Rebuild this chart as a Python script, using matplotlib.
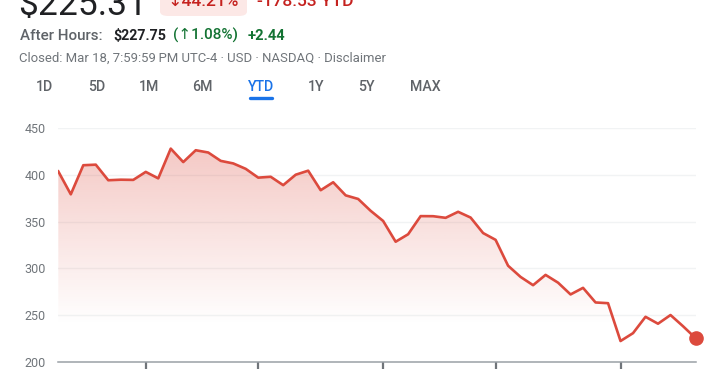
import matplotlib
matplotlib.use("Agg")
import matplotlib.pyplot as plt
import numpy as np
from matplotlib.patches import FancyBboxPatch, Polygon

# ---- data ----
dates = ["Dec 31", "Jan 2", "Jan 3", "Jan 6", "Jan 7", "Jan 8", "Jan 10", "Jan 13", "Jan 14",
         "Jan 15", "Jan 16", "Jan 17", "Jan 21", "Jan 22", "Jan 23", "Jan 24", "Jan 27",
         "Jan 28", "Jan 29", "Jan 30", "Jan 31", "Feb 3", "Feb 4", "Feb 5", "Feb 6", "Feb 7",
         "Feb 10", "Feb 11", "Feb 12", "Feb 13", "Feb 14", "Feb 18", "Feb 19", "Feb 20",
         "Feb 21", "Feb 24", "Feb 25", "Feb 26", "Feb 27", "Feb 28", "Mar 3", "Mar 4",
         "Mar 5", "Mar 6", "Mar 7", "Mar 10", "Mar 11", "Mar 12", "Mar 13", "Mar 14",
         "Mar 17", "Mar 18"]
prices = [403.84, 379.28, 410.44, 411.05, 394.36, 394.94, 394.74, 403.31, 396.36,
          428.22, 413.82, 426.50, 424.07, 415.11, 412.38, 406.58, 397.15,
          398.09, 389.10, 400.28, 404.60, 383.68, 392.21, 378.17, 374.32, 361.62,
          350.73, 328.50, 336.51, 355.94, 355.84, 354.11, 360.56, 354.40,
          337.80, 330.53, 302.80, 290.80, 281.95, 292.98, 284.65, 272.04,
          279.10, 263.45, 262.67, 222.15, 230.58, 248.09, 240.68, 249.98,
          238.01, 225.31]
tick_dates = ["Jan 13", "Jan 27", "Feb 10", "Feb 24", "Mar 10"]
y_ticks = [200, 250, 300, 350, 400, 450]
ranges = ["1D", "5D", "1M", "6M", "YTD", "1Y", "5Y", "MAX"]
selected_range = "YTD"

price_text = "$225.31"
change_pct_text = "\u219344.21%"
change_abs_text = "-178.53 YTD"
ah_label = "After Hours:"
ah_price = "$227.75"
ah_pct = "(\u21911.08%)"
ah_abs = "+2.44"
closed_text = "Closed: Mar 18, 7:59:59\u2009PM UTC-4 \u00b7 USD \u00b7 NASDAQ \u00b7 Disclaimer"

# ---- figure ----
W, H = 710, 375
fig = plt.figure(figsize=(W / 100, H / 100), dpi=100)
fig.patch.set_facecolor("white")
FAM = ["Roboto", "DejaVu Sans"]

def fx(x):
    return x / W

def fy(y):
    return 1 - y / H

RED = "#dc4a3d"
GREEN = "#137333"
GRAY = "#5f6368"
LGRAY = "#70757a"
DARK = "#202124"
BLUE = "#1a73e8"

# header
fig.text(fx(18), fy(15), price_text, fontsize=25.5, color=DARK, family=FAM, va="baseline", ha="left")
box = FancyBboxPatch((fx(160), fy(16)), fx(87), 30 / H,
                     boxstyle="round,pad=0,rounding_size=0.012",
                     transform=fig.transFigure, facecolor="#fce8e6", edgecolor="none")
fig.patches.append(box)
fig.text(fx(203), fy(6), change_pct_text, fontsize=12.5, color="#c5221f", family=FAM,
         va="baseline", ha="center", fontweight="medium")
fig.text(fx(257), fy(6), change_abs_text, fontsize=12.5, color="#c5221f", family=FAM,
         va="baseline", ha="left", fontweight="medium")

fig.text(fx(20), fy(40), ah_label, fontsize=10.9, color=GRAY, family=FAM, va="baseline",
         ha="left", fontweight="medium")
fig.text(fx(113), fy(40), ah_price, fontsize=10.3, color=DARK, family=FAM, va="baseline",
         ha="left", fontweight="bold")
fig.text(fx(173), fy(40), ah_pct, fontsize=11.0, color=GREEN, family=FAM, va="baseline",
         ha="left", fontweight="medium")
fig.text(fx(248), fy(40), ah_abs, fontsize=10.6, color=GREEN, family=FAM, va="baseline",
         ha="left", fontweight="bold")

fig.text(fx(19), fy(62), closed_text, fontsize=9.45, color=LGRAY, family=FAM, va="baseline",
         ha="left")

tab_x = [44.3, 96.3, 148.7, 202.3, 261.3, 316.3, 366.7, 425.5]
for name, x in zip(ranges, tab_x):
    col = BLUE if name == selected_range else GRAY
    fig.text(fx(x), fy(91), name, fontsize=10.2, color=col, family=FAM, va="baseline",
             ha="center", fontweight="medium")
    if name == selected_range:
        fig.add_artist(plt.Line2D([fx(250), fx(272)], [fy(97.7), fy(97.7)],
                                  transform=fig.transFigure, color=BLUE, lw=2.4,
                                  solid_capstyle="round"))

# ---- chart ----
left, right = 58.3, 695.5
top, bottom = 128.3, 361.7
ax = fig.add_axes([fx(left), fy(bottom), fx(right - left), (bottom - top) / H])
x = np.arange(len(prices))
y = np.array(prices)
ax.set_xlim(0, len(prices) - 1)
ax.set_ylim(200, 450)

# gradient fill
vals = np.linspace(200, 450, 300)
alpha = np.clip(0.30 * (vals - 240) / (430 - 240), 0, 0.30)
img = np.zeros((300, 1, 4))
img[..., 0] = 220 / 255
img[..., 1] = 74 / 255
img[..., 2] = 61 / 255
img[:, 0, 3] = alpha
im = ax.imshow(img, extent=[0, len(prices) - 1, 200, 450], origin="lower",
               aspect="auto", zorder=1, interpolation="bilinear")
poly = Polygon(np.column_stack([np.r_[x, x[-1], x[0]], np.r_[y, 200, 200]]),
               closed=True, facecolor="none", edgecolor="none", transform=ax.transData)
ax.add_patch(poly)
im.set_clip_path(poly)

for v in y_ticks[1:]:
    ax.axhline(v, color="#f1f3f4", lw=1, zorder=0.5)
ax.plot(x, y, color=RED, lw=1.9, zorder=3, solid_joinstyle="round")
ax.plot([x[-1]], [y[-1]], "o", color=RED, ms=9.5, zorder=4, clip_on=False)

for s in ["top", "right", "left"]:
    ax.spines[s].set_visible(False)
ax.spines["bottom"].set_color("#9aa0a6")
ax.spines["bottom"].set_linewidth(1.1)
ax.set_xticks([dates.index(d) for d in tick_dates])
ax.set_xticklabels([])
ax.tick_params(axis="x", direction="out", length=5, width=1.6, color="#70757a")
ax.set_yticks(y_ticks)
ax.set_yticklabels([str(v) for v in y_ticks], fontsize=9, color=LGRAY, family=FAM)
ax.tick_params(axis="y", length=0, pad=9)
ax.set_facecolor("none")

fig.savefig("out.png", dpi=100, facecolor="white")
